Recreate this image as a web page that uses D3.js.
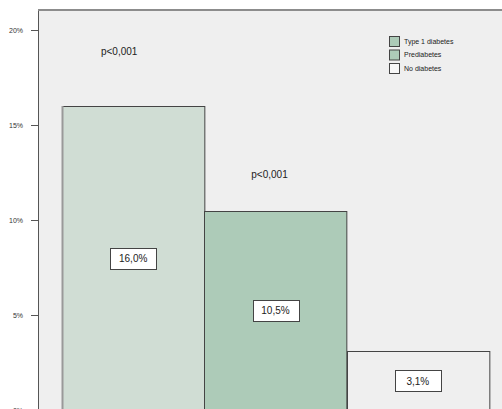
<!DOCTYPE html>
<html><head><meta charset="utf-8">
<script src="https://cdn.jsdelivr.net/npm/d3@7"></script>
<style>body{margin:0;background:#fff}svg{display:block;font-family:"Liberation Sans",Arial,sans-serif}</style>
</head><body>
<script>
const categories = ["Type 1 diabetes", "Prediabetes", "No diabetes"];
const values = [16.0, 10.5, 3.1];
const valueLabels = ["16,0%", "10,5%", "3,1%"];
const yTicks = [0, 5, 10, 15, 20];
const pLabels = ["p<0,001", "p<0,001"];

const W = 502, H = 409;
const barColors = ["#d0ddd4", "#adcbb8", "#efefef"];
const legendColors = ["#adcbb8", "#adcbb8", "#f7f7f7"];

const svg = d3.select("body").append("svg").attr("width", W).attr("height", H);

// plot frame
svg.append("rect").attr("x", 38.5).attr("y", 10.5).attr("width", 480).attr("height", 420)
  .attr("fill", "#efefef").attr("stroke", "#555").attr("stroke-width", 1);
svg.append("line").attr("x1", 38).attr("x2", W).attr("y1", 10).attr("y2", 10)
  .attr("stroke", "#8c8c8c").attr("stroke-width", 2);

const y = d3.scaleLinear().domain([0, 20]).range([410, 30]);
const x = d3.scaleBand().domain(categories).range([62, 489]).padding(0);

const axis = d3.axisLeft(y).tickValues(yTicks).tickSize(7).tickPadding(8)
  .tickFormat(d => d + "%");
const ag = svg.append("g").attr("transform", "translate(38,0)").call(axis);
ag.select(".domain").remove();
ag.selectAll(".tick line").attr("stroke", "#555");
ag.selectAll(".tick text").attr("font-size", 7).attr("fill", "#333")
  .attr("font-family", "Liberation Sans, Arial, sans-serif");

// bars
svg.selectAll("rect.bar").data(categories).join("rect").attr("class", "bar")
  .attr("x", d => Math.round(x(d)) + 0.5)
  .attr("y", (d, i) => Math.round(y(values[i])) + 0.5)
  .attr("width", x.bandwidth())
  .attr("height", (d, i) => y(0) - y(values[i]) + 5)
  .attr("fill", (d, i) => barColors[i])
  .attr("stroke", "#444").attr("stroke-width", 1);
// left edge of first bar is a greyer, thicker line
svg.append("line").attr("x1", x(categories[0]) + 0.5).attr("x2", x(categories[0]) + 0.5)
  .attr("y1", y(values[0])).attr("y2", H).attr("stroke", "#999").attr("stroke-width", 2);

// value label boxes
categories.forEach((c, i) => {
  const cx = x(c) + x.bandwidth() / 2;
  const cy = (y(values[i]) + y(0)) / 2;
  const bw = 46, bh = 21;
  svg.append("rect").attr("x", Math.round(cx - bw / 2) + 0.5).attr("y", Math.round(cy - bh / 2) + 0.5)
    .attr("width", bw).attr("height", bh).attr("fill", "#fff").attr("stroke", "#444");
  svg.append("text").attr("x", cx).attr("y", cy + 4).attr("text-anchor", "middle")
    .attr("font-size", 10).attr("fill", "#222").text(valueLabels[i]);
});

// p-value annotations
const pPos = [[x(categories[0]) + x.bandwidth() / 2 - 14, y(18.7)], [x(categories[1]) + x.bandwidth() / 2 - 6, y(12.2)]];
pLabels.forEach((t, i) => {
  svg.append("text").attr("x", pPos[i][0]).attr("y", pPos[i][1]).attr("text-anchor", "middle")
    .attr("font-size", 10).attr("fill", "#222").text(t);
});

// legend
const lg = svg.append("g").attr("transform", "translate(389,36)");
categories.forEach((c, i) => {
  const g = lg.append("g").attr("transform", `translate(0,${i * 13.5})`);
  g.append("rect").attr("x", 0.5).attr("y", 0.5).attr("width", 10).attr("height", 10)
    .attr("fill", legendColors[i]).attr("stroke", "#444");
  g.append("text").attr("x", 15).attr("y", 7.5).attr("font-size", 7).attr("fill", "#222").text(c);
});
</script>
</body></html>
